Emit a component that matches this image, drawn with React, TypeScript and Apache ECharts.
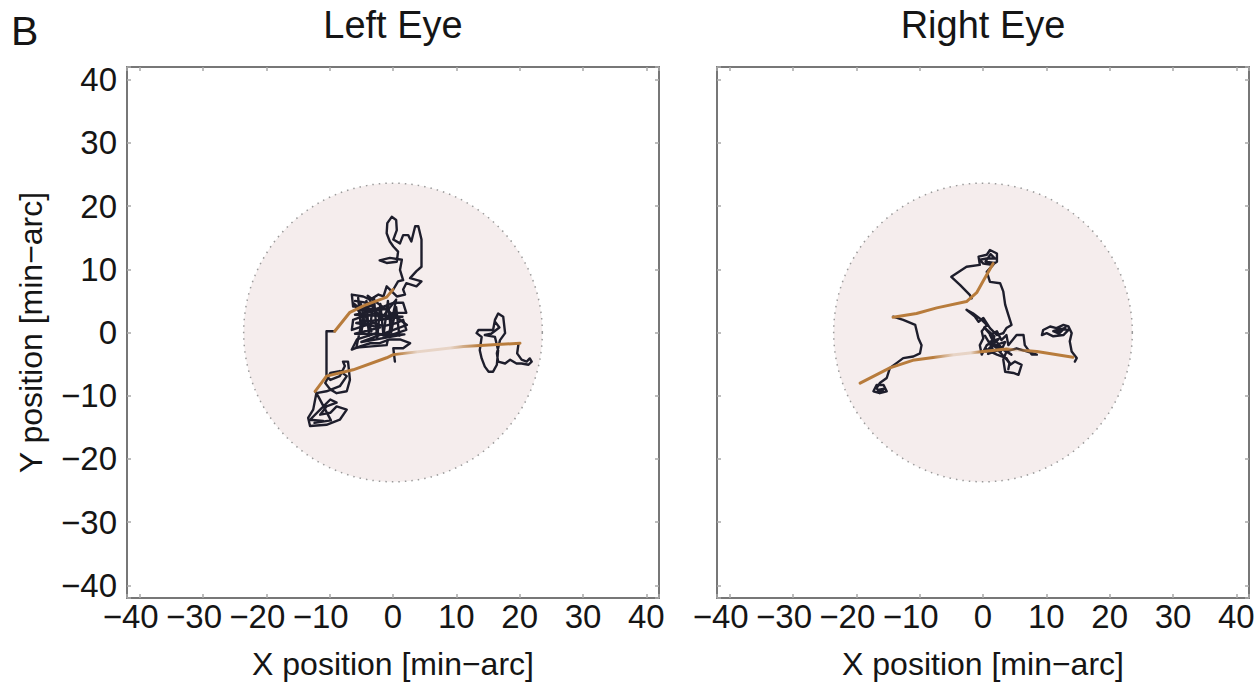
import { useEffect, useRef } from 'react';
import * as echarts from 'echarts';

// ---------- data ----------
const axisMin = -42;
const axisMax = 42;
const fixationRadius = 23.6;
const panelTitles = ['Left Eye', 'Right Eye'];
const panelLetter = 'B';
const xAxisName = 'X position [min\u2212arc]';
const yAxisName = 'Y position [min\u2212arc]';

// Left eye drift (black) segments
const leftDriftA: number[][] = [
  [-9.2, 0.2], [-10.5, 0.2], [-10.5, -6.9], [-9.9, -7.5], [-8.4, -6.9], [-7.6, -5.3], [-7.9, -4.6],
  [-7.1, -4.6], [-6.8, -7.5], [-7.3, -9.3], [-8.9, -9.6], [-9.9, -9.0], [-10.7, -8.0], [-9.9, -6.4],
  [-8.4, -6.1], [-7.3, -6.9], [-8.4, -8.5], [-10.5, -9.3], [-12.1, -9.6], [-12.6, -12.2], [-13.4, -13.5],
  [-13.1, -14.8], [-10.5, -14.6], [-8.4, -13.8], [-7.3, -12.2], [-8.9, -11.7], [-9.9, -12.7], [-11.5, -13.0],
  [-10.5, -11.7], [-8.9, -11.1], [-9.9, -10.6], [-11.5, -12.2], [-13.1, -13.8], [-11.0, -14.0],
  [-12.4, -14.3], [-9.8, -13.9], [-11.8, -10.1], [-12.3, -9.3],
];
const leftDriftB: number[][] = [
  [19.8, -1.9], [19.6, -3.3], [20.3, -4.3], [21.1, -4.6], [21.6, -4.1], [21.9, -4.6], [21.4, -5.1],
  [20.3, -4.9], [19.5, -4.9], [18.5, -4.3], [17.7, -4.9], [16.6, -4.6], [16.4, -3.3], [16.9, -1.2],
  [17.7, -0.1], [17.4, 2.5], [16.6, 3.0], [16.1, 2.0], [15.8, 0.4], [13.5, 0.4], [13.2, -0.1],
  [14.0, -0.7], [13.7, -2.8], [14.0, -4.1], [14.5, -5.4], [15.1, -6.2], [15.8, -6.2], [16.4, -5.1],
  [16.6, -2.8], [16.1, -0.7], [14.5, -0.4], [15.5, -0.2], [16.8, 0.8], [16.2, 1.6],
];
const leftDriftC: number[][] = [
  [0.05, 6.8], [0.8, 8.1], [1.6, 8.3], [1.1, 9.9], [1.4, 11.5], [-0.5, 11.8], [-2.1, 11.4], [-1.0, 11.0],
  [0.6, 11.2], [0.8, 12.8], [0.05, 13.6], [-0.5, 14.4], [-1.0, 15.7], [-0.9, 17.3], [-0.2, 18.3],
  [0.5, 17.8], [0.6, 16.2], [0.05, 14.7], [1.1, 14.1], [1.6, 15.4], [2.4, 15.4], [2.9, 14.4], [3.5, 16.8],
  [4.0, 16.8], [4.5, 14.7], [4.5, 10.4], [3.7, 9.7], [2.7, 8.6], [4.5, 8.1], [3.7, 7.3], [2.1, 7.8],
  [1.6, 6.8], [1.9, 6.0], [0.6, 5.7], [-1.0, 7.3], [-1.5, 5.7], [-2.3, 6.0], [-3.6, 5.2], [-4.7, 5.7],
  [-6.5, 6.0], [-6.3, 4.1], [-4.7, 4.1], [-3.1, 3.6], [-1.5, 4.1], [0.05, 4.7], [1.6, 4.7], [2.1, 3.1],
  [0.6, 3.1], [-1.0, 2.6], [-2.6, 3.1], [-4.7, 2.6], [-6.3, 2.0], [-6.5, 0.4], [-4.7, 1.0], [-3.1, 1.5],
  [-1.5, 1.0], [0.6, 1.5], [1.6, 2.0], [2.1, 0.4], [0.6, -0.1], [-1.0, -0.6], [-2.6, -0.1], [-4.2, -0.6],
  [-5.7, -1.1], [-6.5, -2.7], [-5.2, -2.2], [-3.6, -1.7], [-2.1, -1.7], [-0.5, -1.1], [1.1, -1.1],
  [2.7, -1.7], [1.6, -2.5], [0.05, -2.5], [0.3, -4.6],
];
const leftDriftD: number[][] = [
  [-5.5, 5.5], [-5.0, 0.0], [-4.2, 5.0], [-3.8, -0.5], [-3.0, 5.5], [-2.5, -1.0], [-2.0, 4.5],
  [-1.5, -0.5], [-0.8, 5.0], [-0.3, 0.0], [0.5, 4.0], [1.0, -0.5],
];
const leftDriftE: number[][] = [
  [-6.0, 5.0], [-3.0, 4.5], [-5.5, 3.5], [-1.0, 3.8], [-6.0, 2.8], [1.5, 2.5], [-5.8, 1.5], [-2.0, 0.8],
  [-6.0, -0.2], [1.8, -0.3], [-5.0, -1.5], [2.2, 1.2], [-4.0, 5.8], [-2.0, 2.0], [0.5, 5.2], [-1.0, -2.0],
  [-5.8, -2.4], [-4.6, 3.2], [-6.2, 4.6], [-3.4, 0.2], [-5.2, 4.8],
];
// Left eye microsaccades (orange)
const leftSaccadeA: number[][] = [
  [-12.3, -9.3], [-10.5, -6.9], [-6.3, -5.9], [-1.0, -4.0], [0.05, -3.5], [11.1, -2.2], [20.05, -1.7],
];
const leftSaccadeB: number[][] = [
  [-9.2, 0.2], [-6.8, 3.2], [-4.5, 4.3], [-1.0, 5.6], [0.0, 6.8],
];

// Right eye drift (black) segments
const rightDriftA: number[][] = [
  [-1.8, 5.4], [-2.05, 5.9], [-3.6, 7.5], [-5.0, 8.8], [-2.6, 10.4], [-0.5, 10.7], [-0.7, 12.0],
  [0.6, 12.3], [1.1, 13.05], [2.2, 12.5], [2.2, 11.2], [1.4, 10.7], [0.05, 10.9], [-0.5, 11.5],
  [0.6, 11.7], [1.9, 11.7], [1.2, 12.4], [0.4, 11.2], [1.8, 11.0], [1.6, 10.7], [0.6, 9.6], [1.1, 8.0],
  [2.7, 7.8], [3.2, 6.5], [3.5, 4.4], [4.0, 2.8], [4.5, 1.2], [3.7, 0.7], [3.2, -0.1],
];
const rightDriftB: number[][] = [
  [3.2, -0.1], [2.2, -0.4], [1.1, 0.7], [0.05, 2.3], [-0.7, 1.7], [-1.26, 2.5], [-2.6, 3.6], [-1.6, 3.05],
  [-0.2, 2.0], [0.6, 1.2], [-0.2, 0.2], [0.05, -0.9], [-0.5, -2.0], [-0.2, -3.5], [0.6, -2.0], [1.6, -1.4],
  [1.1, -0.4], [2.2, 0.2], [2.9, -1.2], [3.7, -0.4], [4.0, -2.0], [5.3, -0.4], [6.4, -0.4], [6.6, -2.0],
  [7.7, -3.5], [8.5, -3.5], [6.9, -3.0], [5.3, -2.5], [3.7, -3.0], [3.2, -4.3], [3.5, -6.2], [4.8, -6.4],
  [5.6, -6.7], [6.1, -5.1], [5.05, -4.6], [4.3, -5.1], [3.7, -4.05], [2.2, -3.5], [1.1, -3.0], [0.3, -2.5],
];
const rightDriftE: number[][] = [
  [0.3, -0.5], [1.5, -2.5], [0.5, -3.0], [2.5, -1.0], [1.0, -1.5], [2.8, -3.0], [3.5, -1.5], [2.0, -2.0],
  [4.5, -3.5], [3.0, -2.5], [0.2, 0.8], [1.8, -0.6], [0.8, -3.4], [2.4, -2.8], [4.2, -4.8], [4.0, -5.8],
];
const rightDriftC: number[][] = [
  [14.5, -4.6], [14.8, -4.05], [14.0, -3.0], [13.7, -1.4], [14.0, -0.1], [13.5, 0.95], [12.7, 1.2],
  [11.6, 0.7], [10.6, 0.95], [9.5, 0.4], [9.3, -0.4], [10.05, -0.1], [11.1, -0.6], [12.7, -0.4],
  [13.5, 0.4], [12.2, 0.6], [11.1, 0.2], [12.0, -0.2], [13.0, 0.8], [11.6, 0.0],
];
const rightDriftD: number[][] = [
  [-14.2, 2.5], [-12.6, 2.0], [-10.7, 1.2], [-10.2, -0.9], [-9.7, -2.0], [-9.95, -3.3], [-11.0, -3.8],
  [-12.6, -4.05], [-13.6, -4.8], [-14.7, -5.6], [-15.2, -7.2], [-16.3, -8.0], [-16.8, -8.8], [-16.3, -9.6],
  [-15.2, -9.3], [-15.7, -8.3], [-16.8, -8.3], [-17.3, -9.3], [-16.3, -9.6], [-15.6, -8.9], [-16.6, -9.1],
];
// Right eye microsaccades (orange)
const rightSaccadeA: number[][] = [
  [-14.2, 2.4], [-10.5, 3.0], [-7.3, 3.9], [-2.6, 4.9], [-1.0, 6.3], [0.05, 8.2], [1.6, 10.9],
];
const rightSaccadeB: number[][] = [
  [-19.4, -8.0], [-14.7, -5.6], [-11.1, -4.4], [-5.2, -3.6], [0.0, -3.0], [3.7, -2.6], [8.5, -3.0], [14.2, -3.9],
];

// ---------- styles ----------
const FONT = '"Liberation Sans", Arial, sans-serif';
const TEXT = '#151515';
const FRAME = '#777777';
const TICK = '#a8a8a8';
const DRIFT = '#1e1e2c';
const ORANGE = '#b87c3c';
const ORANGE_LIGHT = 'rgba(184,124,60,0.22)';
const gridBoxes = [
  { left: 127, top: 67, width: 532, height: 531 },
  { left: 717, top: 67, width: 532, height: 531 },
];

const xFmt = (v: number) => {
  if (Math.abs(v % 10) > 1e-9) return '';
  if (v < 0) return `{n|\u2212${Math.abs(v)}}{g| }`;
  return `{n|${v}}`;
};
const yFmt = (v: number) => {
  if (Math.abs(v % 10) > 1e-9) return '';
  return v < 0 ? `\u2212${Math.abs(v)}` : `${v}`;
};

function axisBase(gridIndex: number, position: string, showLabel: boolean) {
  return {
    type: 'value',
    gridIndex,
    position,
    min: axisMin,
    max: axisMax,
    minInterval: 10,
    maxInterval: 10,
    splitNumber: 8,
    axisLine: { show: true, onZero: false, lineStyle: { color: FRAME, width: 2 } },
    axisTick: { show: true, inside: true, length: 4, lineStyle: { color: TICK, width: 1.5 } },
    splitLine: { show: false },
    axisLabel: { show: showLabel },
  };
}

function gradientOrange(stops: [number, string][]) {
  return new echarts.graphic.LinearGradient(
    0, 0, 1, 0,
    stops.map(([offset, color]) => ({ offset, color })),
  );
}

export default function App() {
  const ref = useRef<HTMLDivElement>(null);
  useEffect(() => {
    if (!ref.current) return;
    const chart = echarts.init(ref.current, undefined, { renderer: 'svg' });

    const xAxes: any[] = [];
    const yAxes: any[] = [];
    for (let g = 0; g < 2; g++) {
      const xb: any = axisBase(g, 'bottom', true);
      xb.axisLabel = {
        show: true,
        margin: 2,
        formatter: xFmt,
        rich: {
          n: { fontSize: 33, fontFamily: FONT, color: TEXT },
          g: { width: 18, fontSize: 12 },
        },
      };
      xb.name = xAxisName;
      xb.nameLocation = 'middle';
      xb.nameGap = 51;
      xb.nameTextStyle = { fontSize: 32, lineHeight: 30, fontFamily: FONT, color: TEXT };
      xAxes.push(xb);
      xAxes.push(axisBase(g, 'top', false));

      const yl: any = axisBase(g, 'left', g === 0);
      if (g === 0) {
        yl.axisLabel = { show: true, margin: 10, formatter: yFmt, fontSize: 33, fontFamily: FONT, color: TEXT };
        yl.name = yAxisName;
        yl.nameLocation = 'middle';
        yl.nameGap = 80;
        yl.nameTextStyle = { fontSize: 32, fontFamily: FONT, color: TEXT };
      }
      yAxes.push(yl);
      yAxes.push(axisBase(g, 'right', false));
    }

    const circle = (g: number) => ({
      type: 'custom',
      xAxisIndex: 2 * g,
      yAxisIndex: 2 * g,
      data: [[0, 0, fixationRadius]],
      z: 1,
      silent: true,
      renderItem: (_p: any, api: any) => {
        const c = api.coord([api.value(0), api.value(1)]);
        const s = api.size([api.value(2), api.value(2)]);
        return {
          type: 'circle',
          shape: { cx: c[0], cy: c[1], r: (s[0] + s[1]) / 2 },
          style: { fill: '#f5eded', stroke: '#9a9a9a', lineWidth: 1.5, lineDash: [1.5, 5] },
        };
      },
    });

    const line = (data: number[][], g: number, color: any, width: number, z: number) => ({
      type: 'line',
      xAxisIndex: 2 * g,
      yAxisIndex: 2 * g,
      data,
      symbol: 'none',
      showSymbol: false,
      silent: true,
      z,
      lineStyle: { color, width, join: 'round', cap: 'round' },
    });

    const leftSacAColor = gradientOrange([
      [0, ORANGE], [0.4, ORANGE], [0.5, ORANGE_LIGHT], [0.66, ORANGE_LIGHT], [0.8, ORANGE], [1, ORANGE],
    ]);
    const rightSacBColor = gradientOrange([
      [0, ORANGE], [0.34, ORANGE], [0.44, ORANGE_LIGHT], [0.52, ORANGE_LIGHT], [0.57, ORANGE],
      [0.69, ORANGE], [0.74, ORANGE_LIGHT], [0.79, ORANGE], [1, ORANGE],
    ]);

    const DW = 2.4;
    const OW = 3;
    chart.setOption({
      animation: false,
      grid: gridBoxes.map((b) => ({ ...b, containLabel: false, outerBoundsMode: 'none' })),
      xAxis: xAxes,
      yAxis: yAxes,
      graphic: [
        { type: 'text', x: 11, y: 31, style: { text: panelLetter, font: `41px ${FONT}`, fill: TEXT, textVerticalAlign: 'middle' } },
        { type: 'text', x: 393, y: 25, style: { text: panelTitles[0], font: `38px ${FONT}`, fill: TEXT, textAlign: 'center', textVerticalAlign: 'middle' } },
        { type: 'text', x: 983, y: 25, style: { text: panelTitles[1], font: `38px ${FONT}`, fill: TEXT, textAlign: 'center', textVerticalAlign: 'middle' } },
      ],
      series: [
        circle(0),
        circle(1),
        line(leftDriftA, 0, DRIFT, DW, 2),
        line(leftDriftB, 0, DRIFT, DW, 2),
        line(leftDriftC, 0, DRIFT, DW, 2),
        line(leftDriftD, 0, DRIFT, DW, 2),
        line(leftDriftE, 0, DRIFT, DW, 2),
        line(leftSaccadeA, 0, leftSacAColor, OW, 3),
        line(leftSaccadeB, 0, ORANGE, OW, 3),
        line(rightDriftA, 1, DRIFT, DW, 2),
        line(rightDriftB, 1, DRIFT, DW, 2),
        line(rightDriftE, 1, DRIFT, DW, 2),
        line(rightDriftC, 1, DRIFT, DW, 2),
        line(rightDriftD, 1, DRIFT, DW, 2),
        line(rightSaccadeA, 1, ORANGE, OW, 3),
        line(rightSaccadeB, 1, rightSacBColor, OW, 3),
      ],
    });
    return () => chart.dispose();
  }, []);
  return <div ref={ref} style={{ position: 'absolute', left: 0, top: 0, width: 1258, height: 683 }} />;
}
